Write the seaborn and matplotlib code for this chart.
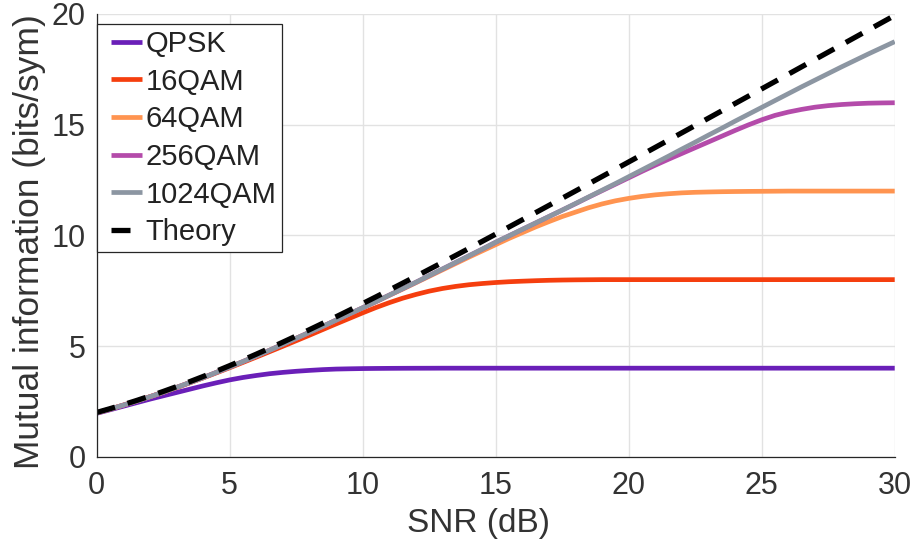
import matplotlib
matplotlib.use("Agg")
import matplotlib.pyplot as plt
from matplotlib.legend_handler import HandlerLine2D
import seaborn as sns
import pandas as pd

# SNR grid (dB), half-dB steps
snr_db = [i * 0.5 for i in range(61)]

# Mutual information (bits/symbol, dual polarisation)
mi_qpsk = [1.96, 2.12, 2.28, 2.44, 2.60, 2.75, 2.90, 3.05, 3.20, 3.34,
           3.47, 3.58, 3.67, 3.75, 3.81, 3.86, 3.90, 3.935, 3.96, 3.972,
           3.982, 3.988, 3.992, 3.995, 3.997, 3.998, 4.00, 4.00, 4.00, 4.00,
           4.00, 4.00, 4.00, 4.00, 4.00, 4.00, 4.00, 4.00, 4.00, 4.00,
           4.00, 4.00, 4.00, 4.00, 4.00, 4.00, 4.00, 4.00, 4.00, 4.00,
           4.00, 4.00, 4.00, 4.00, 4.00, 4.00, 4.00, 4.00, 4.00, 4.00,
           4.00]
mi_16qam = [1.98, 2.15, 2.33, 2.52, 2.71, 2.91, 3.12, 3.34, 3.56, 3.79,
            4.02, 4.26, 4.50, 4.745, 4.99, 5.24, 5.49, 5.745, 6.00, 6.25,
            6.50, 6.74, 6.96, 7.16, 7.33, 7.48, 7.60, 7.695, 7.77, 7.825,
            7.87, 7.905, 7.93, 7.952, 7.97, 7.982, 7.99, 7.995, 8.00, 8.00,
            8.00, 8.00, 8.00, 8.00, 8.00, 8.00, 8.00, 8.00, 8.00, 8.00,
            8.00, 8.00, 8.00, 8.00, 8.00, 8.00, 8.00, 8.00, 8.00, 8.00,
            8.00]
mi_64qam = [1.98, 2.15, 2.33, 2.51, 2.71, 2.91, 3.13, 3.35, 3.57, 3.81,
            4.05, 4.30, 4.55, 4.81, 5.08, 5.35, 5.62, 5.89, 6.17, 6.45,
            6.72, 7.00, 7.29, 7.57, 7.86, 8.15, 8.44, 8.73, 9.02, 9.30,
            9.58, 9.86, 10.12, 10.38, 10.62, 10.85, 11.05, 11.25, 11.42, 11.56,
            11.67, 11.76, 11.83, 11.88, 11.92, 11.945, 11.96, 11.972, 11.98, 11.986,
            11.99, 11.995, 12.00, 12.00, 12.00, 12.00, 12.00, 12.00, 12.00, 12.00,
            12.00]
mi_256qam = [1.98, 2.15, 2.33, 2.51, 2.71, 2.91, 3.13, 3.35, 3.57, 3.81,
             4.05, 4.30, 4.55, 4.81, 5.08, 5.35, 5.62, 5.89, 6.17, 6.45,
             6.73, 7.01, 7.30, 7.59, 7.88, 8.18, 8.48, 8.78, 9.08, 9.38,
             9.69, 9.98, 10.27, 10.56, 10.85, 11.14, 11.43, 11.73, 12.02, 12.31,
             12.60, 12.89, 13.17, 13.44, 13.70, 13.96, 14.22, 14.48, 14.74, 14.99,
             15.22, 15.42, 15.57, 15.69, 15.79, 15.86, 15.91, 15.945, 15.97, 15.982,
             15.99]
mi_1024qam = [1.98, 2.15, 2.33, 2.51, 2.71, 2.91, 3.13, 3.35, 3.57, 3.81,
              4.05, 4.30, 4.55, 4.81, 5.08, 5.35, 5.62, 5.89, 6.17, 6.45,
              6.73, 7.01, 7.30, 7.59, 7.88, 8.18, 8.48, 8.78, 9.08, 9.38,
              9.69, 9.98, 10.27, 10.56, 10.85, 11.14, 11.44, 11.74, 12.04, 12.34,
              12.65, 12.96, 13.27, 13.58, 13.90, 14.21, 14.53, 14.84, 15.16, 15.47,
              15.78, 16.09, 16.40, 16.71, 17.01, 17.31, 17.61, 17.90, 18.19, 18.47,
              18.75]
mi_theory = [2.000, 2.171, 2.351, 2.541, 2.740, 2.948, 3.165, 3.391, 3.624, 3.866,
             4.115, 4.371, 4.633, 4.901, 5.176, 5.455, 5.740, 6.029, 6.322, 6.618,
             6.919, 7.222, 7.529, 7.838, 8.149, 8.463, 8.778, 9.095, 9.414, 9.734,
             10.056, 10.378, 10.702, 11.026, 11.352, 11.678, 12.004, 12.332, 12.659, 12.988,
             13.316, 13.645, 13.975, 14.305, 14.635, 14.965, 15.295, 15.626, 15.957, 16.288,
             16.619, 16.950, 17.281, 17.613, 17.944, 18.276, 18.607, 18.939, 19.271, 19.603,
             19.934]

labels = ["QPSK", "16QAM", "64QAM", "256QAM", "1024QAM"]
colors = ["#6A1FB8", "#F53E0E", "#FF9450", "#B44BAA", "#8C96A2"]
x_ticks = [0, 5, 10, 15, 20, 25, 30]
y_ticks = [0, 5, 10, 15, 20]


class InsetLine(HandlerLine2D):
    """Legend line that leaves a small gap before the handle."""

    def __init__(self, inset=0.3, **kw):
        super().__init__(**kw)
        self.inset = inset

    def create_artists(self, legend, orig_handle, xdescent, ydescent,
                       width, height, fontsize, trans):
        s = self.inset * fontsize
        return super().create_artists(legend, orig_handle, xdescent - s,
                                      ydescent, width - s, height,
                                      fontsize, trans)


sns.set_style("white")
plt.rcParams["font.family"] = ["Liberation Sans", "DejaVu Sans"]
text_color = "#333333"

fig = plt.figure(figsize=(9.14, 5.53), dpi=100)
ax = fig.add_axes([0.1058, 0.1741, 0.8731, 0.8006])

for lab, col, vals in zip(labels, colors,
                          [mi_qpsk, mi_16qam, mi_64qam, mi_256qam, mi_1024qam]):
    df = pd.DataFrame({"snr": snr_db, "mi": vals})
    sns.lineplot(data=df, x="snr", y="mi", ax=ax, color=col, lw=3.4,
                 label=lab, solid_capstyle="butt")

df_t = pd.DataFrame({"snr": snr_db, "mi": mi_theory})
sns.lineplot(data=df_t, x="snr", y="mi", ax=ax, color="black", lw=3.8,
             label="Theory", linestyle=(0, (3.6, 2.5)),
             dash_capstyle="butt")

ax.set_xlim(0, 30)
ax.set_ylim(0, 20)
ax.set_xticks(x_ticks)
ax.set_yticks(y_ticks)
ax.grid(True, color="#e2e2e2", lw=1.0)
ax.set_axisbelow(True)

for side in ["top", "right"]:
    ax.spines[side].set_visible(False)
for side in ["left", "bottom"]:
    ax.spines[side].set_color("#262626")
    ax.spines[side].set_linewidth(0.9)

ax.tick_params(axis="both", direction="in", length=6, width=0.8,
               colors="#262626", labelcolor=text_color, labelsize=22, pad=8)
ax.tick_params(axis="x", pad=10)

ax.set_xlabel("SNR (dB)", fontsize=24, color=text_color, labelpad=5)
ax.set_ylabel("Mutual information (bits/sym)", fontsize=25.5,
              color=text_color, labelpad=4)
ax.xaxis.label.set_x(0.479)
ax.yaxis.label.set_y(0.487)

handles, leg_labels = ax.get_legend_handles_labels()
leg = ax.legend(handles, leg_labels, loc="upper left",
                bbox_to_anchor=(0.0, 0.977), borderaxespad=0, fontsize=21,
                frameon=True, fancybox=False, framealpha=1,
                edgecolor="#262626", handlelength=1.37, handletextpad=0.11,
                labelspacing=0.33, borderpad=0.2,
                handler_map={h: InsetLine(inset=0.3) for h in handles})
leg.get_frame().set_linewidth(0.9)
for t in leg.get_texts():
    t.set_color("#222222")

fig.savefig("out.png", dpi=100)
